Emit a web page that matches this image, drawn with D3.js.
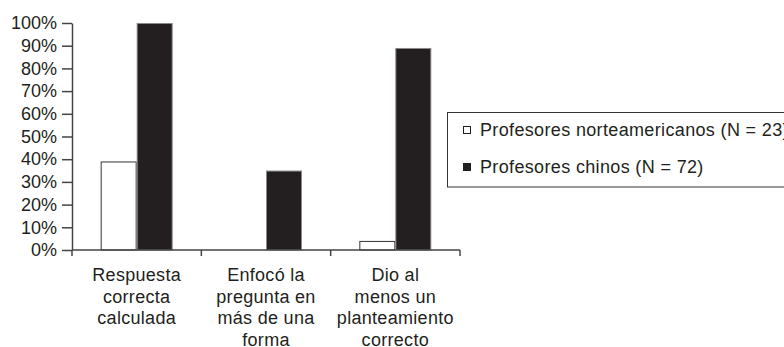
<!DOCTYPE html>
<html>
<head>
<meta charset="utf-8">
<script src="https://cdn.jsdelivr.net/npm/d3@7"></script>
<style>
  html, body { margin: 0; padding: 0; background: #fff; overflow: hidden; }
  svg { display: block; font-family: "Liberation Sans", Arial, sans-serif; }
</style>
</head>
<body>
<svg id="chart" width="784" height="347"></svg>
<script>
// Categories (multi-line labels) and series values in percent
const categories = ["Respuesta correcta calculada", "Enfocó la pregunta en más de una forma", "Dio al menos un planteamiento correcto"];
const categoryLines = [
  ["Respuesta", "correcta", "calculada"],
  ["Enfocó la", "pregunta en", "más de una", "forma"],
  ["Dio al", "menos un", "planteamiento", "correcto"]
];
const seriesNames = ["Profesores norteamericanos (N = 23)", "Profesores chinos (N = 72)"];
const norteamericanos = [39, 0, 4];
const chinos = [100, 35, 89];
const yTicks = [0, 10, 20, 30, 40, 50, 60, 70, 80, 90, 100];

const seriesValues = [norteamericanos, chinos];
const seriesFill = ["#ffffff", "#231f20"];
const ink = "#231f20";
const axisColor = "#444";

const svg = d3.select("#chart");
const plotLeft = 72, plotRight = 460, plotTop = 23, plotBottom = 250;

const x0 = d3.scaleBand().domain(categories).range([plotLeft, plotRight]).paddingInner(0).paddingOuter(0);
const bw = x0.bandwidth();
const barW = 36;
const outer = (bw / (2 * barW) - 1);
const x1 = d3.scaleBand().domain(seriesNames).range([0, bw]).paddingInner(0).paddingOuter(outer);
const y = d3.scaleLinear().domain([0, 100]).range([plotBottom, plotTop]);

// Bars
const groups = svg.append("g").selectAll("g")
  .data(categories)
  .join("g")
  .attr("transform", d => `translate(${x0(d)},0)`);

groups.selectAll("rect")
  .data((d, i) => seriesNames.map((s, j) => ({ s, j, v: seriesValues[j][i] })).filter(e => e.v > 0))
  .join("rect")
  .attr("x", d => x1(d.s) + 0.5)
  .attr("y", d => y(d.v) + 0.5)
  .attr("width", x1.bandwidth() - 1)
  .attr("height", d => y(0) - y(d.v) - 0.5)
  .attr("fill", d => seriesFill[d.j])
  .attr("stroke", d => d.j === 0 ? "#333" : "#8a8888")
  .attr("stroke-width", 1);

// Y axis
const yAxis = svg.append("g")
  .attr("transform", `translate(${plotLeft},0)`)
  .call(d3.axisLeft(y).tickValues(yTicks).tickFormat(d => d + "%").tickSize(10).tickSizeOuter(0).tickPadding(5));
yAxis.select(".domain").attr("stroke", axisColor).attr("stroke-width", 1.5);
yAxis.selectAll(".tick line").attr("stroke", axisColor).attr("stroke-width", 1.5);
yAxis.selectAll(".tick text")
  .attr("fill", ink)
  .style("font-size", "18px")
  .attr("font-family", "Liberation Sans, Arial, sans-serif");

// X axis line with boundary ticks between categories
const xAxisG = svg.append("g");
xAxisG.append("line")
  .attr("x1", plotLeft).attr("x2", plotRight)
  .attr("y1", y(0)).attr("y2", y(0))
  .attr("stroke", axisColor).attr("stroke-width", 1.5);
const bounds = categories.map(c => x0(c)).concat([x0(categories[categories.length - 1]) + bw]);
xAxisG.selectAll("line.bt")
  .data(bounds)
  .join("line")
  .attr("class", "bt")
  .attr("x1", d => d).attr("x2", d => d)
  .attr("y1", y(0)).attr("y2", y(0) + 6)
  .attr("stroke", axisColor).attr("stroke-width", 1.5);

// Category labels
const labels = svg.append("g")
  .selectAll("text")
  .data(categories)
  .join("text")
  .attr("x", d => x0(d) + bw / 2)
  .attr("y", 281)
  .attr("text-anchor", "middle")
  .attr("fill", ink)
  .style("font-size", "18px")
  .style("letter-spacing", "0.3px");
labels.each(function (d, i) {
  d3.select(this).selectAll("tspan")
    .data(categoryLines[i])
    .join("tspan")
    .attr("x", x0(d) + bw / 2)
    .attr("dy", (t, k) => k === 0 ? 0 : 21.5)
    .text(t => t);
});

// Legend
const legend = svg.append("g");
legend.append("rect")
  .attr("x", 447.5).attr("y", 112.5)
  .attr("width", 400).attr("height", 74.5)
  .attr("fill", "#fff").attr("stroke", "#333").attr("stroke-width", 1);
const legendRows = [136, 173];
seriesNames.forEach((name, j) => {
  legend.append("rect")
    .attr("x", 463.5).attr("y", legendRows[j] - 9.5)
    .attr("width", 7).attr("height", 7)
    .attr("fill", seriesFill[j])
    .attr("stroke", ink).attr("stroke-width", 1);
  legend.append("text")
    .attr("x", 480).attr("y", legendRows[j])
    .attr("fill", ink)
    .style("font-size", "18px")
    .style("letter-spacing", "0.35px")
    .text(name);
});
</script>
</body>
</html>
